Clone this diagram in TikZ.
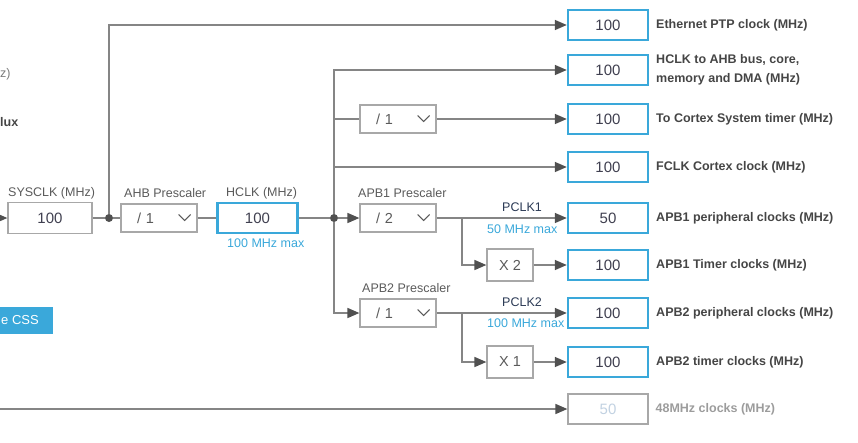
\documentclass[tikz,border=0pt]{standalone}
\usepackage{fontspec}
\setmainfont{Liberation Sans}
\usetikzlibrary{arrows.meta}

\definecolor{Wire}{HTML}{858585}
\definecolor{Tip}{HTML}{505050}
\definecolor{BoxGrey}{HTML}{A8A8A8}
\definecolor{CubeBlue}{HTML}{3AA8DA}
\definecolor{Value}{HTML}{404050}
\definecolor{Caption}{HTML}{454545}
\definecolor{Title}{HTML}{5A5A5A}
\definecolor{Navy}{HTML}{2B3A55}
\definecolor{Off}{HTML}{C2D2E2}
\definecolor{OffText}{HTML}{9C9C9C}

\newcommand{\capfont}{\fontsize{12.5}{19}\selectfont}
\newcommand{\valfont}{\fontsize{15}{18}\selectfont}
\newcommand{\presfont}{\fontsize{14.5}{17}\selectfont}

\tikzstyle{wire}=[draw=Wire, line width=1.5pt]
\tikzstyle{feed}=[wire, -{Triangle[length=12pt, width=10pt, color=Tip]}]
\tikzstyle{junction}=[circle, fill=Tip, inner sep=0pt, minimum size=8pt]
\tikzstyle{clock-box}=[rectangle, draw=CubeBlue, fill=white, line width=2.4pt, minimum width=80pt, minimum height=30pt, font=\valfont, text=Value]
\tikzstyle{off-box}=[clock-box, draw=BoxGrey, line width=1.2pt, text=Off]
\tikzstyle{sys-box}=[rectangle, draw=BoxGrey, line width=1.2pt, minimum width=84pt, minimum height=31pt, font=\valfont, text=Value]
\tikzstyle{prescaler}=[rectangle, draw=BoxGrey, line width=1.2pt, minimum height=28pt, inner xsep=16pt, text width=44pt, align=left, font=\presfont, text=Title]
\tikzstyle{mult-box}=[rectangle, draw=BoxGrey, line width=1.2pt, minimum width=46pt, minimum height=32pt, font=\presfont, text=Title]
\tikzstyle{title}=[anchor=west, inner sep=0pt, font=\capfont, text=Title]
\tikzstyle{limit}=[title, text=CubeBlue]

% little drop-down mark of a prescaler box
\newcommand{\drop}[1]{\draw[draw=Title, line width=1pt] (#1.east) ++(-19,-3.5) -- ++(6,6) -- ++(6,-6);}

\begin{document}
\begin{tikzpicture}[x=1pt, y=-1pt, label distance=3.5pt,
    every label/.style={font=\capfont\bfseries, text=Caption, align=left}]
      \useasboundingbox (0,0) rectangle (858,442);

      % cut-off left part
      \node (mux-unit) at (0,74) [title, text=Title!80] {z)};
      \node (mux-name) at (0,122.5) [title, font=\capfont\bfseries, text=Caption] {lux};
      \node (css) at (53,320.5) [anchor=east, fill=CubeBlue, text=white, inner xsep=14pt, minimum height=27pt, font=\fontsize{13}{15}\selectfont] {e CSS};

      % blue limit texts first, the boxes lie over them
      \node (limit-hclk) at (227,243) [limit] {100 MHz max};
      \node (limit-pclk1) at (487,229) [limit] {50 MHz max};
      \node (limit-pclk2) at (487,323) [limit] {100 MHz max};

      \node (sysclk) at (50,218) [sys-box] {100};
      \node (dot-sys) at (109,218) [junction] {};
      \node (ahbpre) at (159,218) [prescaler] {/ 1};
      \node (hclk) at (257.5,218) [clock-box] {100};
      \node (dot-hclk) at (334,218) [junction] {};
      \node (cortexpre) at (398,119) [prescaler] {/ 1};
      \node (apb1pre) at (398,218) [prescaler] {/ 2};
      \node (apb2pre) at (398,313) [prescaler] {/ 1};
      \coordinate (split-1) at (462,218);
      \coordinate (split-2) at (462,313);
      \node (x2) at (510,265) [mult-box] {X 2};
      \node (x1) at (510,362) [mult-box] {X 1};
      \drop{ahbpre}
      \drop{cortexpre}
      \drop{apb1pre}
      \drop{apb2pre}

      \node (title-sys) at (8,193) [title] {SYSCLK (MHz)};
      \node (title-ahb) at (124,193) [title] {AHB Prescaler};
      \node (title-hclk) at (226,193) [title] {HCLK (MHz)};
      \node (title-apb1) at (358,193) [title] {APB1 Prescaler};
      \node (title-apb2) at (362,288) [title] {APB2 Prescaler};
      \node (pclk-1) at (502,207) [title, text=Navy] {PCLK1};
      \node (pclk-2) at (502,302) [title, text=Navy] {PCLK2};

      \node (out-eth) at (608,25) [clock-box, label=right:{Ethernet PTP clock (MHz)}] {100};
      \node (out-hclk) at (608,70) [clock-box, label=right:{HCLK to AHB bus, core,\\memory and DMA (MHz)}] {100};
      \node (out-cortex) at (608,119) [clock-box, label=right:{To Cortex System timer (MHz)}] {100};
      \node (out-fclk) at (608,167) [clock-box, label=right:{FCLK Cortex clock (MHz)}] {100};
      \node (out-apb1p) at (608,218) [clock-box, label=right:{APB1 peripheral clocks (MHz)}] {50};
      \node (out-apb1t) at (608,265) [clock-box, label=right:{APB1 Timer clocks (MHz)}] {100};
      \node (out-apb2p) at (608,313) [clock-box, label=right:{APB2 peripheral clocks (MHz)}] {100};
      \node (out-apb2t) at (608,362) [clock-box, label=right:{APB2 timer clocks (MHz)}] {100};
      \node (out-usb) at (608,409) [off-box, label={[text=OffText]right:{48MHz clocks (MHz)}}] {50};

      \coordinate (in-sys) at (-20,218);
      \coordinate (in-usb) at (-20,409);

      % connectors
      \draw[feed] (in-sys) -- (sysclk);
      \draw[wire] (sysclk) -- (dot-sys) -- (ahbpre) -- (hclk) -- (dot-hclk);
      \draw[feed] (dot-sys) |- (out-eth);
      \draw[feed] (dot-hclk) |- (out-hclk);
      \draw[wire] (dot-hclk) |- (cortexpre);
      \draw[feed] (cortexpre) -- (out-cortex);
      \draw[feed] (dot-hclk) |- (out-fclk);
      \draw[feed] (dot-hclk) -- (apb1pre);
      \draw[feed] (dot-hclk) |- (apb2pre);
      \draw[feed] (apb1pre) -- (out-apb1p);
      \draw[feed] (split-1) |- (x2);
      \draw[feed] (x2) -- (out-apb1t);
      \draw[feed] (apb2pre) -- (out-apb2p);
      \draw[feed] (split-2) |- (x1);
      \draw[feed] (x1) -- (out-apb2t);
      \draw[feed] (in-usb) -- (out-usb);
    \end{tikzpicture}
\end{document}
